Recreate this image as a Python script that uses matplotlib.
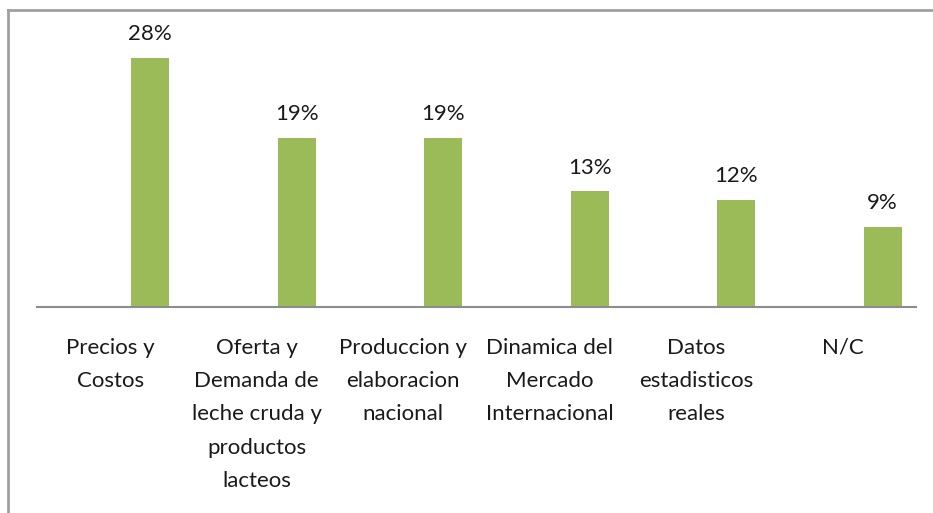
import matplotlib.pyplot as plt
from matplotlib.lines import Line2D

categories = ["Precios y\nCostos",
              "Oferta y\nDemanda de\nleche cruda y\nproductos\nlacteos",
              "Produccion y\nelaboracion\nnacional",
              "Dinamica del\nMercado\nInternacional",
              "Datos\nestadisticos\nreales",
              "N/C"]
values = [28, 19, 19, 13, 12, 9]

plt.rcParams['font.family'] = ['Lato', 'DejaVu Sans']

W, H = 933, 513
fig = plt.figure(figsize=(W / 100, H / 100), dpi=100)
ax = fig.add_axes([37 / W, 1 - 307 / H, (916 - 37) / W, (307 - 10) / H])

x = list(range(len(values)))
xb = [i + 0.273 for i in x]
ax.bar(xb, values, width=0.26, color='#9BBB59', zorder=2)
for xi, v in zip(xb, values):
    ax.annotate(f"{v}%", (xi, v), xytext=(0, 10), textcoords='offset points',
                ha='center', va='bottom', fontsize=16, color='#1a1a1a')

ax.set_xlim(-0.5, 5.5)
ax.set_ylim(0, 33.4)
ax.set_yticks([])
ax.set_xticks(x)
ax.set_xticklabels(categories, fontsize=16, color='#1a1a1a')
for lbl in ax.get_xticklabels():
    lbl.set_linespacing(1.84)
ax.tick_params(axis='x', length=0, pad=22)
for s in ['top', 'right', 'left']:
    ax.spines[s].set_visible(False)
ax.spines['bottom'].set_color('#8c8c8c')
ax.spines['bottom'].set_linewidth(1.5)

# chart frame (left and top edges visible)
fig.add_artist(Line2D([8 / W, 8 / W], [0, 1 - 10 / H], color='#a0a0a0', lw=2))
fig.add_artist(Line2D([8 / W, 1], [1 - 10 / H, 1 - 10 / H], color='#a0a0a0', lw=2))

fig.savefig('out.png', dpi=100)
